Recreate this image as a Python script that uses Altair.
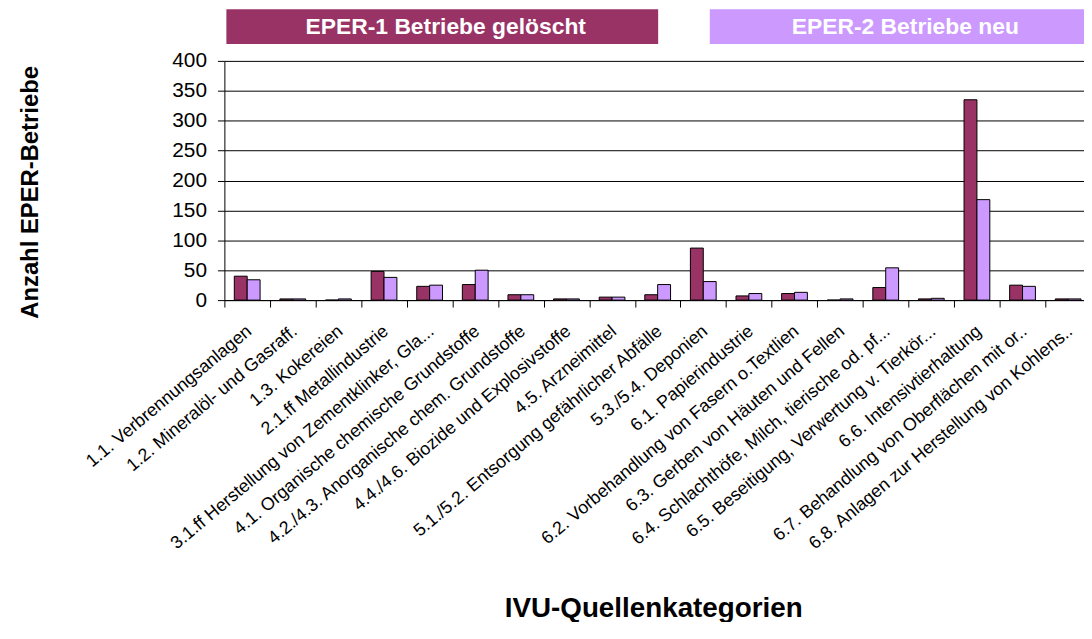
import altair as alt
import pandas as pd

CATEGORIES = [
    "1.1. Verbrennungsanlagen",
    "1.2. Mineralöl- und Gasraff.",
    "1.3. Kokereien",
    "2.1.ff Metallindustrie",
    "3.1.ff Herstellung von Zementklinker, Gla...",
    "4.1. Organische chemische Grundstoffe",
    "4.2./4.3. Anorganische chem. Grundstoffe",
    "4.4./4.6. Biozide und Explosivstoffe",
    "4.5. Arzneimittel",
    "5.1./5.2. Entsorgung gefährlicher Abfälle",
    "5.3./5.4. Deponien",
    "6.1. Papierindustrie",
    "6.2. Vorbehandlung von Fasern o.Textlien",
    "6.3. Gerben von Häuten und Fellen",
    "6.4. Schlachthöfe, Milch, tierische od. pf...",
    "6.5. Beseitigung, Verwertung v. Tierkör...",
    "6.6. Intensivtierhaltung",
    "6.7. Behandlung von Oberflächen mit or..",
    "6.8. Anlagen zur Herstellung von Kohlens..",
]
SERIES = ["EPER-1 Betriebe gelöscht", "EPER-2 Betriebe neu"]
EPER1 = [40, 2, 0, 48, 23, 26, 9, 2, 5, 9, 87, 7, 11, 0, 21, 2, 335, 25, 2]
EPER2 = [34, 2, 2, 38, 25, 50, 9, 2, 5, 26, 31, 11, 13, 2, 54, 3, 168, 23, 2]
Y_TICKS = [0, 50, 100, 150, 200, 250, 300, 350, 400]

COLORS = ["#993366", "#CC99FF"]
FONT = "Liberation Sans"

rows = []
for c, a, b in zip(CATEGORIES, EPER1, EPER2):
    rows.append({"kategorie": c, "serie": SERIES[0], "anzahl": a})
    rows.append({"kategorie": c, "serie": SERIES[1], "anzahl": b})
df = pd.DataFrame(rows)

W, H = 866, 241
X_RANGE = [0, 873]
color_scale = alt.Scale(domain=SERIES, range=COLORS)

bars = alt.Chart(df).mark_bar(stroke="black", strokeWidth=1).encode(
    x=alt.X(
        "kategorie:N",
        sort=CATEGORIES,
        scale=alt.Scale(paddingInner=0, paddingOuter=0, range=X_RANGE),
        axis=alt.Axis(
            title="IVU-Quellenkategorien",
            labelAngle=-40,
            labelAlign="right",
            labelBaseline="top",
            labelFontSize=18,
            labelFont=FONT,
            labelColor="black",
            labelPadding=15,
            labelOffset=-4,
            labelLimit=600,
            labelOverlap=False,
            tickBand="extent",
            tickSize=7,
            tickColor="black",
            domainColor="black",
            grid=False,
            titleFont=FONT,
            titleFontSize=28,
            titleFontWeight="bold",
            titleColor="black",
            titleX=432,
            titleY=319,
            titleAlign="center",
            titleBaseline="alphabetic",
        ),
    ),
    xOffset=alt.XOffset(
        "serie:N", sort=SERIES, scale=alt.Scale(paddingOuter=0.77, paddingInner=0)
    ),
    y=alt.Y(
        "anzahl:Q",
        scale=alt.Scale(domain=[0, 400], nice=False),
        axis=alt.Axis(
            title="Anzahl EPER-Betriebe",
            values=Y_TICKS,
            labelFontSize=21,
            labelFont=FONT,
            labelColor="black",
            labelPadding=11,
            tickSize=7,
            tickColor="black",
            domainColor="black",
            gridColor="black",
            gridWidth=1,
            titleFont=FONT,
            titleFontSize=24,
            titleFontWeight="bold",
            titleColor="black",
            titleAngle=270,
            titleX=-195,
            titleY=132,
            titleAlign="center",
            titleBaseline="middle",
        ),
    ),
    color=alt.Color("serie:N", scale=color_scale, legend=None),
)

leg_df = pd.DataFrame({"serie": SERIES})
LEG_POS = [(2, 437, 223), (489, 866, 686)]
legend_layers = []
for name, (x1, x2, xc) in zip(SERIES, LEG_POS):
    base = alt.Chart(leg_df).transform_filter(alt.datum.serie == name)
    rect = base.mark_rect().encode(
        x=alt.value(x1),
        x2=alt.value(x2),
        y=alt.value(-52),
        y2=alt.value(-17),
        color=alt.Color("serie:N", scale=color_scale, legend=None),
    )
    txt = base.mark_text(
        font=FONT, fontSize=23, fontWeight="bold", color="white",
        align="center", baseline="middle",
    ).encode(x=alt.value(xc), y=alt.value(-34), text="serie:N")
    legend_layers += [rect, txt]

chart = alt.layer(bars, *legend_layers).properties(
    width=W,
    height=H,
    autosize=alt.AutoSizeParams(type="none"),
    padding={"left": 218, "top": 51, "right": 0, "bottom": 322},
).configure_view(stroke="transparent")

chart.save("out.html", embed_options={"renderer": "svg", "actions": False})
